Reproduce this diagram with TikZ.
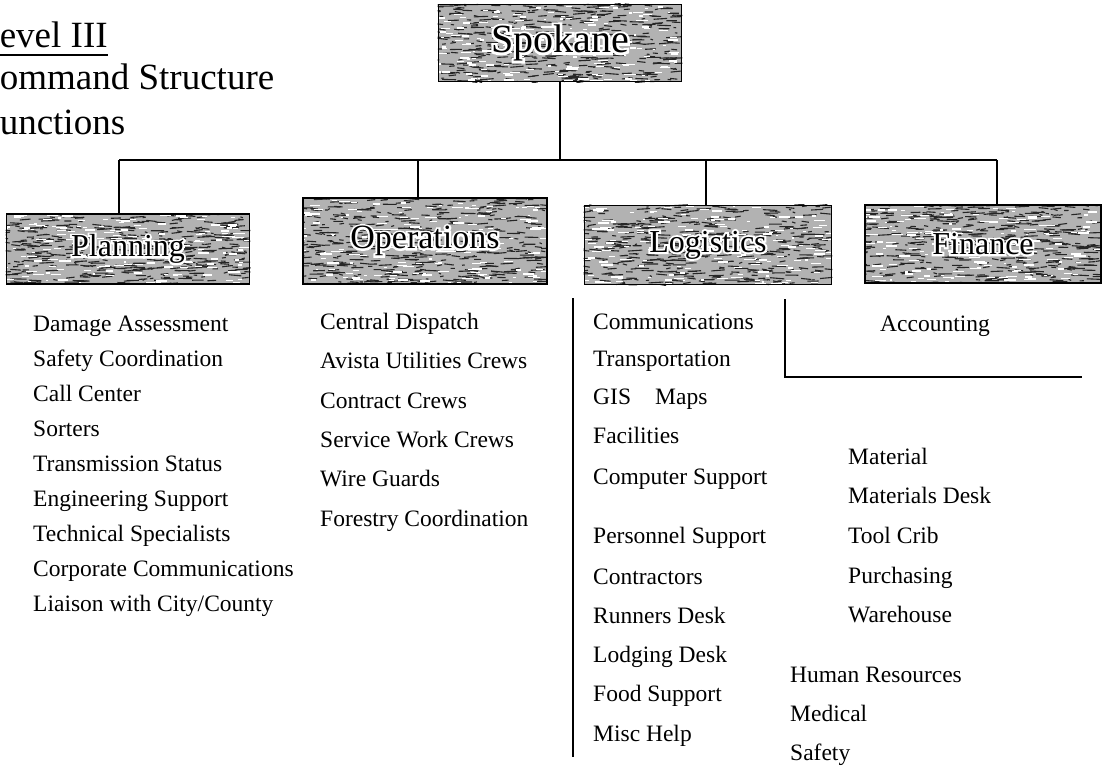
\documentclass[tikz,border=0pt]{standalone}
\usepackage{fontspec}
\setmainfont{Liberation Serif}
\newfontfamily\halofont[FakeBold=12]{Liberation Serif}
\usetikzlibrary{calc}

\pgfdeclarelayer{bg}
\pgfsetlayers{bg,main}

% speckled print texture laid under a named box, with a pale halo for its label
% #1 box name, #2 label, #3 font size
\newcommand\grainunder[3]{%
  \begin{pgfonlayer}{bg}
  \begin{scope}
    \path (#1.south west); \pgfgetlastxy{\gax}{\gay}
    \path (#1.north east); \pgfgetlastxy{\gbx}{\gby}
    \fill[black!30] (#1.south west) rectangle (#1.north east);
    \clip (#1.south west) rectangle (#1.north east);
    \foreach \k in {1,...,430}{%
      \pgfmathsetmacro\gx{\gax+(\gbx-\gax)*rnd-6}%
      \pgfmathsetmacro\gy{\gay+(\gby-\gay)*rnd}%
      \pgfmathsetmacro\gl{2+13*rnd}%
      \pgfmathsetmacro\gd{-1.2+2.4*rnd}%
      \draw[black!85, line width=1.1pt] (\gx pt,\gy pt) -- ++(\gl pt,\gd pt);
    }
    \foreach \k in {1,...,170}{%
      \pgfmathsetmacro\gx{\gax+(\gbx-\gax)*rnd-6}%
      \pgfmathsetmacro\gy{\gay+(\gby-\gay)*rnd}%
      \pgfmathsetmacro\gl{2+10*rnd}%
      \draw[white, line width=1.3pt] (\gx pt,\gy pt) -- ++(\gl pt,0pt);
    }
    \node[inner sep=0pt, text=white, font=\halofont\fontsize{#3}{#3}\selectfont] (#1-halo) at (#1.center) {#2};
  \end{scope}
  \end{pgfonlayer}}

\tikzset{
  grainbox/.style={draw=black, line width=1.8pt, inner sep=0pt},
  titletext/.style={anchor=base west, inner sep=0pt, font=\fontsize{37}{40}\selectfont},
  item/.style={anchor=base west, inner sep=0pt, font=\fontsize{23.5}{28}\selectfont},
  link/.style={line width=1.2pt},
}

\begin{document}
\begin{tikzpicture}[x=1pt,y=-1pt]
\pgfmathsetseed{4127}
\useasboundingbox (0,0) rectangle (1105,767);
\clip (0,0) rectangle (1105,767);
\begin{pgfonlayer}{bg}
\fill[white] (0,0) rectangle (1105,767);
\end{pgfonlayer}

% heading
\node[titletext] (lvl) at (-23,48) {Level III};
\draw[line width=1.8pt] (0,55) -- (lvl.base east |- 0,55);
\node[titletext] (cmd) at (-25,90) {Command Structure};
\node[titletext] (fun) at (-21,135) {Functions};

% boxes
\node[grainbox, minimum width=243pt, minimum height=77pt, font=\fontsize{40}{40}\selectfont] (spk) at (560,43) {Spokane};
\node[grainbox, minimum width=243pt, minimum height=70pt, font=\fontsize{32}{32}\selectfont] (plan) at (128,249) {Planning};
\node[grainbox, minimum width=244pt, minimum height=86pt, font=\fontsize{34}{34}\selectfont] (ops) at (425,241) {Operations};
\node[grainbox, minimum width=247pt, minimum height=79pt, font=\fontsize{32}{32}\selectfont] (log) at (708,245) {Logistics};
\node[grainbox, minimum width=236pt, minimum height=78pt, font=\fontsize{32}{32}\selectfont] (fin) at (983,244) {Finance};
\grainunder{spk}{Spokane}{40}
\grainunder{plan}{Planning}{32}
\grainunder{ops}{Operations}{34}
\grainunder{log}{Logistics}{32}
\grainunder{fin}{Finance}{32}

% connectors
\coordinate (bus) at (0,160);
\coordinate (dP) at (119,160);
\coordinate (dO) at (418,160);
\coordinate (dL) at (706,160);
\coordinate (dF) at (997,160);
\draw[link] (spk.south) -- (spk.south |- bus);
\draw[link] (dP) -- (dF);
\draw[link] (dP) -- (dP |- plan.north);
\draw[link] (dO) -- (dO |- ops.north);
\draw[link] (dL) -- (dL |- log.north);
\draw[link] (dF) -- (dF |- fin.north);

% planning
\node[item] (p1) at (33,331) {Damage Assessment};
\node[item] (p2) at (33,366) {Safety Coordination};
\node[item] (p3) at (33,401) {Call Center};
\node[item] (p4) at (33,436) {Sorters};
\node[item] (p5) at (33,471) {Transmission Status};
\node[item] (p6) at (33,506) {Engineering Support};
\node[item] (p7) at (33,541) {Technical Specialists};
\node[item] (p8) at (33,576) {Corporate Communications};
\node[item] (p9) at (33,611) {Liaison with City/County};

% operations
\node[item] (o1) at (320,329) {Central Dispatch};
\node[item] (o2) at (320,368) {Avista Utilities Crews};
\node[item] (o3) at (320,408) {Contract Crews};
\node[item] (o4) at (320,447) {Service Work Crews};
\node[item] (o5) at (320,486) {Wire Guards};
\node[item] (o6) at (320,526) {Forestry Coordination};

% logistics
\coordinate (lt) at (573,298);
\coordinate (lb) at (573,757);
\draw[link] (lt) -- (lb);
\node[item] (l1) at (593,329) {Communications};
\node[item] (l2) at (593,366) {Transportation};
\node[item] (l3) at (593,404) {GIS};
\node[item] (l3b) at (655,404) {Maps};
\node[item] (l4) at (593,443) {Facilities};
\node[item] (l5) at (593,484) {Computer Support};
\node[item] (l6) at (593,543) {Personnel Support};
\node[item] (l7) at (593,584) {Contractors};
\node[item] (l8) at (593,623) {Runners Desk};
\node[item] (l9) at (593,662) {Lodging Desk};
\node[item] (l10) at (593,701) {Food Support};
\node[item] (l11) at (593,741) {Misc Help};

\node[item] (m1) at (848,464) {Material};
\node[item] (m2) at (848,503) {Materials Desk};
\node[item] (m3) at (848,543) {Tool Crib};
\node[item] (m4) at (848,583) {Purchasing};
\node[item] (m5) at (848,622) {Warehouse};

\node[item] (h1) at (790,682) {Human Resources};
\node[item] (h2) at (790,721) {Medical};
\node[item] (h3) at (790,760) {Safety};

% finance
\coordinate (ft) at (785,299);
\coordinate (fc) at (785,377);
\coordinate (fr) at (1082,377);
\draw[link] (ft) -- (fc) -- (fr);
\node[item] (f1) at (880,331) {Accounting};
\end{tikzpicture}
\end{document}
